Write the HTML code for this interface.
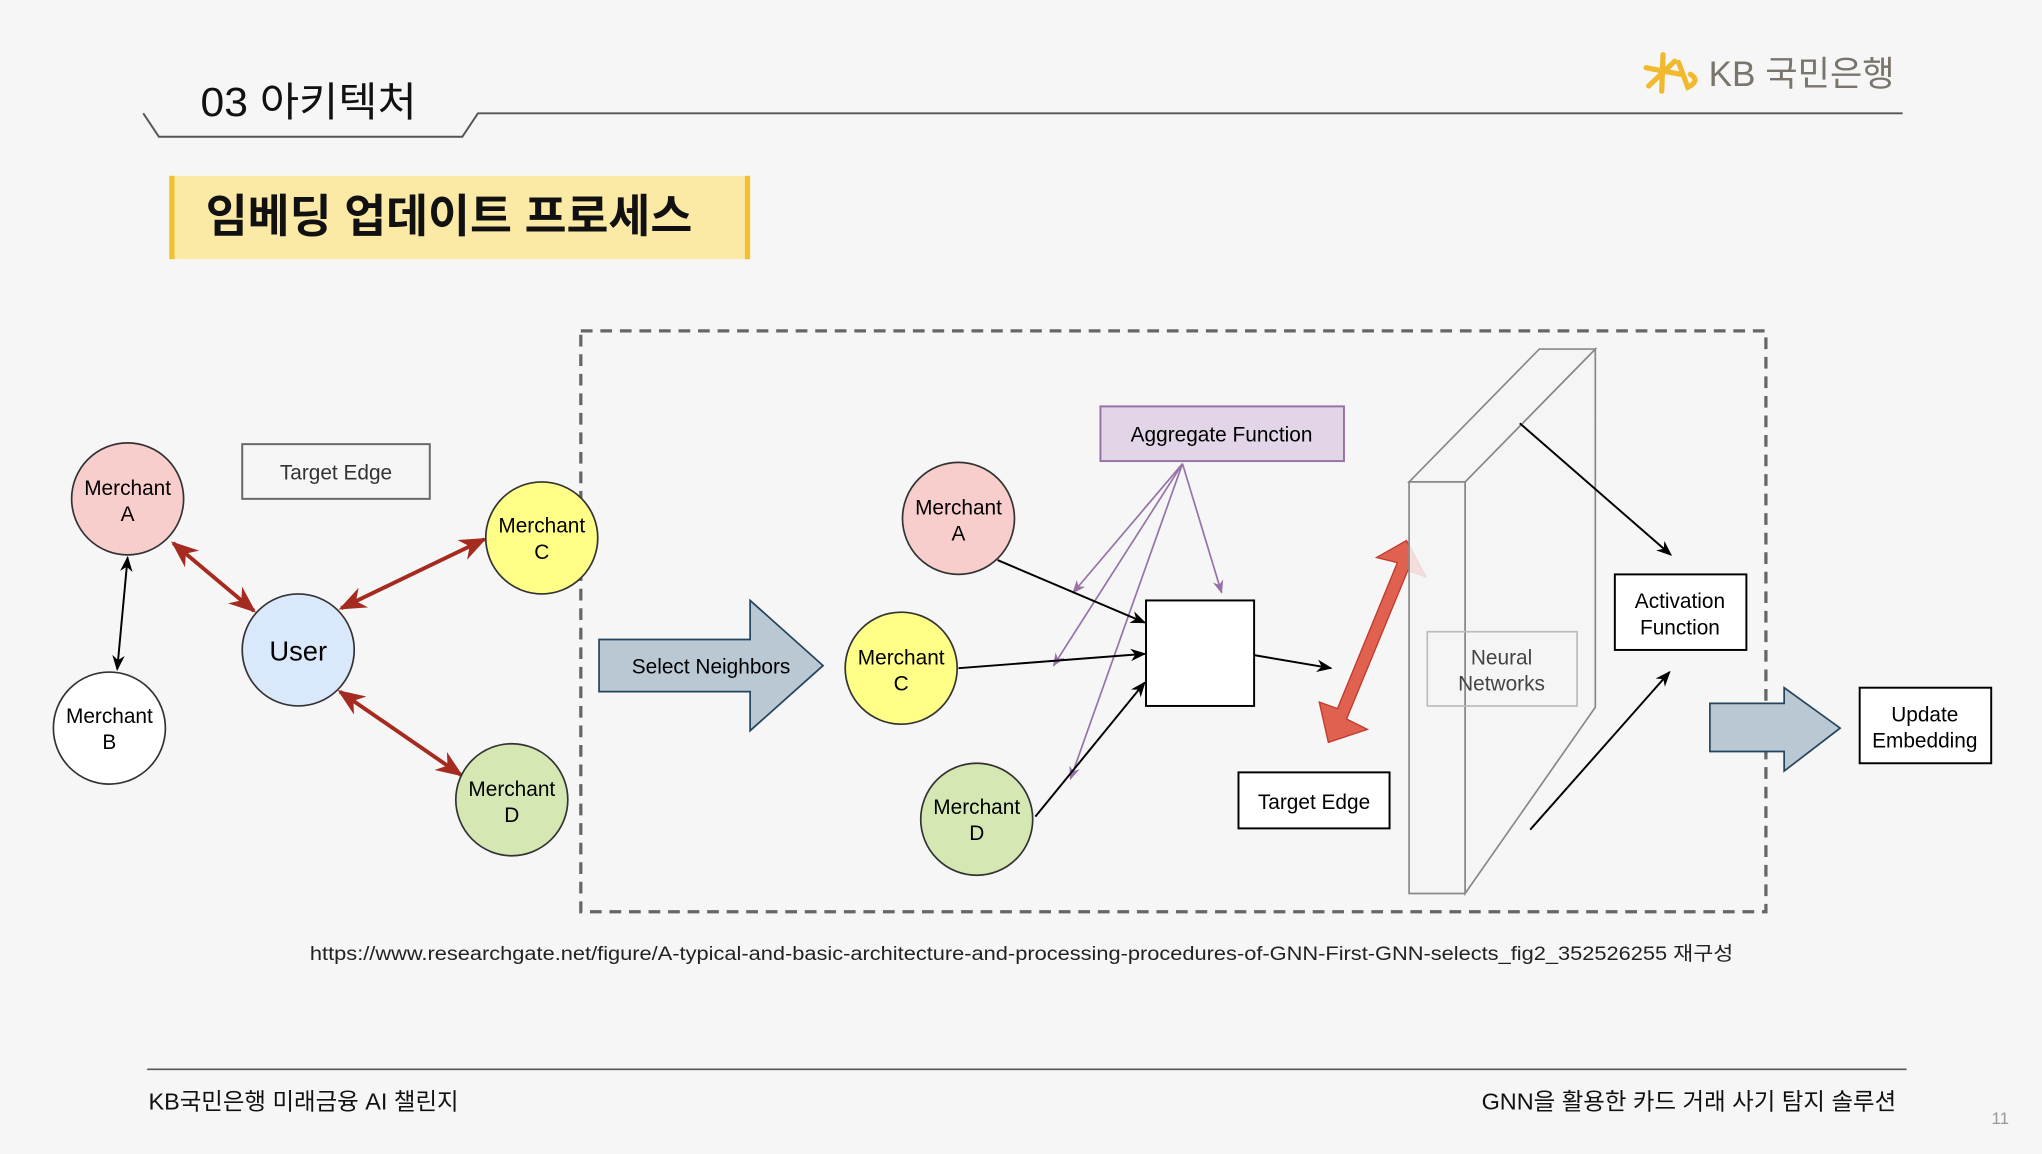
<!DOCTYPE html>
<html><head><meta charset="utf-8"><style>
html,body{margin:0;padding:0;background:#f6f6f6;}
svg{display:block;}
text{font-family:"Liberation Sans","Noto Sans CJK KR",sans-serif;}
</style></head><body>
<svg width="2042" height="1154" viewBox="0 0 1568 886" preserveAspectRatio="none" xmlns="http://www.w3.org/2000/svg">
<defs>
<marker id="bk" viewBox="0 0 10 10" refX="9" refY="5" markerWidth="8" markerHeight="8" orient="auto-start-reverse"><path d="M0,1 L10,5 L0,9 L3,5 Z" fill="#000"/></marker>
<marker id="rd" viewBox="0 0 10 10" refX="9" refY="5" markerWidth="7" markerHeight="7" orient="auto-start-reverse"><path d="M0,1 L10,5 L0,9 L3,5 Z" fill="#a52a1f"/></marker>
<marker id="pp" viewBox="0 0 10 10" refX="9" refY="5" markerWidth="8" markerHeight="8" orient="auto"><path d="M0,1 L10,5 L0,9 L3,5 Z" fill="#9673a6"/></marker>
</defs>
<rect width="1568" height="886" fill="#f6f6f6"/>
<text x="154" y="89" font-size="31" fill="#111" textLength="166" lengthAdjust="spacingAndGlyphs">03 아키텍처</text>
<path d="M110,87 L122,105 L355,105 L367,87 L1461,87" fill="none" stroke="#555" stroke-width="1.5"/>
<g stroke="#f0b92e" stroke-width="4" fill="none" stroke-linecap="round">
<path d="M1264,52 L1290,57 M1277,42 L1276,70 M1266,66 L1286,47 M1289,48 L1296,67 Q1306,62 1298,57"/>
</g>
<text x="1312" y="66" font-size="27" fill="#7a756c">KB 국민은행</text>
<rect x="130" y="135" width="446" height="64" fill="#fbe9a6"/>
<rect x="130" y="135" width="4" height="64" fill="#f2c12e"/>
<rect x="572" y="135" width="4" height="64" fill="#f2c12e"/>
<text x="158" y="178" font-size="35" font-weight="bold" fill="#111">임베딩 업데이트 프로세스</text>
<rect x="446" y="254" width="910" height="446" fill="none" stroke="#666" stroke-width="2.5" stroke-dasharray="9,6"/>
<g font-size="16" fill="#000" text-anchor="middle">
<rect x="186" y="341" width="144" height="42" fill="#f6f6f6" stroke="#666" stroke-width="1.5"/>
<text x="258" y="368" fill="#333">Target Edge</text>
<line x1="98" y1="428" x2="90" y2="514" stroke="#000" stroke-width="1.5" marker-start="url(#bk)" marker-end="url(#bk)"/>
<line x1="133" y1="417" x2="195" y2="469" stroke="#a52a1f" stroke-width="3" marker-start="url(#rd)" marker-end="url(#rd)"/>
<line x1="262" y1="467" x2="372" y2="414" stroke="#a52a1f" stroke-width="3" marker-start="url(#rd)" marker-end="url(#rd)"/>
<line x1="261" y1="531" x2="354" y2="595" stroke="#a52a1f" stroke-width="3" marker-start="url(#rd)" marker-end="url(#rd)"/>
<circle cx="98" cy="383" r="43" fill="#f8cecc" stroke="#333" stroke-width="1.3"/>
<text x="98" y="380">Merchant</text><text x="98" y="400">A</text>
<circle cx="84" cy="559" r="43" fill="#fff" stroke="#333" stroke-width="1.3"/>
<text x="84" y="555">Merchant</text><text x="84" y="575">B</text>
<circle cx="229" cy="499" r="43" fill="#dae8fc" stroke="#333" stroke-width="1.3"/>
<text x="229" y="507" font-size="21">User</text>
<circle cx="416" cy="413" r="43" fill="#ffff88" stroke="#333" stroke-width="1.3"/>
<text x="416" y="409">Merchant</text><text x="416" y="429">C</text>
<circle cx="393" cy="614" r="43" fill="#d5e8b4" stroke="#333" stroke-width="1.3"/>
<text x="393" y="611">Merchant</text><text x="393" y="631">D</text>
<path d="M460,491 L576,491 L576,461 L632,511 L576,561 L576,531 L460,531 Z" fill="#bac8d3" stroke="#23445d" stroke-width="1.3"/>
<text x="546" y="517">Select Neighbors</text>
<rect x="845" y="312" width="187" height="42" fill="#e1d5e7" stroke="#9673a6" stroke-width="1.5"/>
<text x="938" y="339">Aggregate Function</text>
<g stroke="#9673a6" stroke-width="1.3">
<line x1="908" y1="356" x2="824" y2="455" marker-end="url(#pp)"/>
<line x1="908" y1="356" x2="809" y2="511" marker-end="url(#pp)"/>
<line x1="908" y1="356" x2="822" y2="598" marker-end="url(#pp)"/>
<line x1="908" y1="356" x2="938" y2="455" marker-end="url(#pp)"/>
</g>
<g stroke="#000" stroke-width="1.5">
<line x1="766" y1="430" x2="879" y2="478" marker-end="url(#bk)"/>
<line x1="736" y1="513" x2="879" y2="502" marker-end="url(#bk)"/>
<line x1="795" y1="627" x2="879" y2="524" marker-end="url(#bk)"/>
<line x1="963" y1="503" x2="1022" y2="513" marker-end="url(#bk)"/>
</g>
<circle cx="736" cy="398" r="43" fill="#f8cecc" stroke="#333" stroke-width="1.3"/>
<text x="736" y="395">Merchant</text><text x="736" y="415">A</text>
<circle cx="692" cy="513" r="43" fill="#ffff88" stroke="#333" stroke-width="1.3"/>
<text x="692" y="510">Merchant</text><text x="692" y="530">C</text>
<circle cx="750" cy="629" r="43" fill="#d5e8b4" stroke="#333" stroke-width="1.3"/>
<text x="750" y="625">Merchant</text><text x="750" y="645">D</text>
<rect x="880" y="461" width="83" height="81" fill="#fff" stroke="#000" stroke-width="1.5"/>
<path d="M1080,415 L1095,443 L1081,438 L1034,552 L1050,560 L1020,570 L1013,539 L1027,544 L1073,432 L1057,428 Z" fill="#e0614f" stroke="#c0392b" stroke-width="1"/>
<rect x="951" y="593" width="116" height="43" fill="#fff" stroke="#000" stroke-width="1.5"/>
<text x="1009" y="621">Target Edge</text>
<g fill="#f4f4f4" fill-opacity="0.85" stroke="#888" stroke-width="1.3">
<path d="M1125,370 L1225,268 L1225,543 L1125,686 Z"/>
<path d="M1082,370 L1182,268 L1225,268 L1125,370 Z"/>
<rect x="1082" y="370" width="43" height="316"/>
</g>
<rect x="1096" y="485" width="115" height="57" fill="none" stroke="#bbb" stroke-width="1.3"/>
<text x="1153" y="510" fill="#444">Neural</text><text x="1153" y="530" fill="#444">Networks</text>
<g stroke="#000" stroke-width="1.5">
<line x1="1167" y1="325" x2="1283" y2="426" marker-end="url(#bk)"/>
<line x1="1175" y1="637" x2="1282" y2="516" marker-end="url(#bk)"/>
</g>
<rect x="1240" y="441" width="101" height="58" fill="#fff" stroke="#000" stroke-width="1.5"/>
<text x="1290" y="467">Activation</text><text x="1290" y="487">Function</text>
<path d="M1313,540 L1370,540 L1370,528 L1413,559 L1370,592 L1370,577 L1313,577 Z" fill="#bac8d3" stroke="#23445d" stroke-width="1.3"/>
<rect x="1428" y="528" width="101" height="58" fill="#fff" stroke="#000" stroke-width="1.5"/>
<text x="1478" y="554">Update</text><text x="1478" y="574">Embedding</text>
</g>
<text x="238" y="737" font-size="15" fill="#222" textLength="1093" lengthAdjust="spacingAndGlyphs">https://www.researchgate.net/figure/A-typical-and-basic-architecture-and-processing-procedures-of-GNN-First-GNN-selects_fig2_352526255 재구성</text>
<line x1="113" y1="821" x2="1464" y2="821" stroke="#555" stroke-width="1.2"/>
<text x="114" y="852" font-size="18" fill="#111">KB국민은행 미래금융 AI 챌린지</text>
<text x="1456" y="852" font-size="18" fill="#111" text-anchor="end">GNN을 활용한 카드 거래 사기 탐지 솔루션</text>
<text x="1536" y="863" font-size="13" fill="#999" text-anchor="middle">11</text>
</svg>
</body></html>
